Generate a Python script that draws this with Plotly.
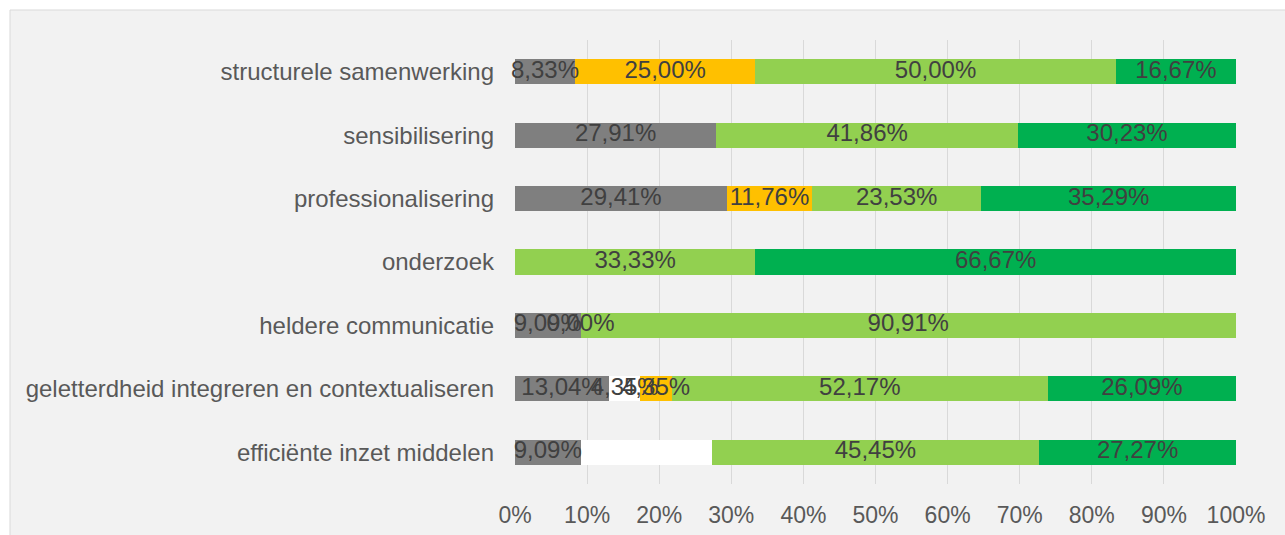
import plotly.graph_objects as go

categories = [
    "structurele samenwerking",
    "sensibilisering",
    "professionalisering",
    "onderzoek",
    "heldere communicatie",
    "geletterdheid integreren en contextualiseren",
    "efficiënte inzet middelen",
]
series_names = ["grijs", "wit", "oranje", "lichtgroen", "donkergroen"]
gray = [8.33, 27.91, 29.41, None, 9.09, 13.04, 9.09]
white = [None, None, None, None, None, 4.35, 18.18]
orange = [25.00, None, 11.76, None, 0.00, 4.35, None]
lgreen = [50.00, 41.86, 23.53, 33.33, 90.91, 52.17, 45.45]
dgreen = [16.67, 30.23, 35.29, 66.67, None, 26.09, 27.27]
# labels hidden in the original chart (series index, category index)
hidden_labels = [(1, 6)]
tick_vals = [0, 10, 20, 30, 40, 50, 60, 70, 80, 90, 100]
tick_text = ["0%", "10%", "20%", "30%", "40%", "50%", "60%", "70%", "80%", "90%", "100%"]

colors = ["#7f7f7f", "#ffffff", "#ffc000", "#92d050", "#00b050"]
all_series = [gray, white, orange, lgreen, dgreen]

W, H = 1285, 535
ML, MR, MT, MB = 515, 49, 40, 51
FONT = "Liberation Sans, Arial, sans-serif"

fig = go.Figure()
for name, vals, col in zip(series_names, all_series, colors):
    fig.add_trace(go.Bar(
        y=categories, x=[v if v is not None else 0 for v in vals],
        orientation="h", name=name, marker=dict(color=col, line=dict(width=0)),
        width=0.395, showlegend=False, hoverinfo="skip",
    ))

# data labels, centred on each segment
lab_x, lab_y, lab_t = [], [], []
for ci, cat in enumerate(categories):
    cum = 0.0
    for si, vals in enumerate(all_series):
        v = vals[ci]
        if v is None:
            continue
        if (si, ci) not in hidden_labels:
            lab_x.append(cum + v / 2)
            lab_y.append(cat)
            lab_t.append(f"{v:.2f}".replace(".", ",") + "%")
        cum += v
fig.add_trace(go.Scatter(
    x=lab_x, y=lab_y, text=lab_t, mode="text", textposition="middle center",
    textfont=dict(family=FONT, size=24, color="#404040"),
    showlegend=False, hoverinfo="skip", cliponaxis=False,
))

pw = W - ML - MR
ph = H - MT - MB
fig.add_shape(
    type="rect", xref="paper", yref="paper",
    x0=(10 - ML) / pw, x1=1.2, y0=-0.3, y1=(H - MB - 10) / ph,
    fillcolor="#f2f2f2", line=dict(color="#d9d9d9", width=1), layer="below",
)

fig.update_layout(
    width=W, height=H,
    margin=dict(l=ML, r=MR, t=MT, b=MB),
    paper_bgcolor="#ffffff", plot_bgcolor="rgba(0,0,0,0)",
    barmode="stack", bargap=0,
    font=dict(family=FONT, color="#595959"),
    xaxis=dict(
        range=[0, 100], tickvals=tick_vals, ticktext=tick_text,
        showgrid=True, gridcolor="#d9d9d9", gridwidth=1,
        zeroline=False, showline=False, ticks="",
        tickfont=dict(family=FONT, size=23, color="#595959"),
        ticklabelstandoff=15, fixedrange=True, automargin=False,
    ),
    yaxis=dict(
        categoryorder="array", categoryarray=categories, autorange="reversed",
        showgrid=False, zeroline=False, showline=False, ticks="",
        tickfont=dict(family=FONT, size=24, color="#595959"),
        ticklabelstandoff=20, fixedrange=True, automargin=False,
    ),
)

fig.write_html(
    "out.html",
    config={"displayModeBar": False},
    post_script="document.body.style.margin='0';document.body.style.overflow='hidden';",
)
